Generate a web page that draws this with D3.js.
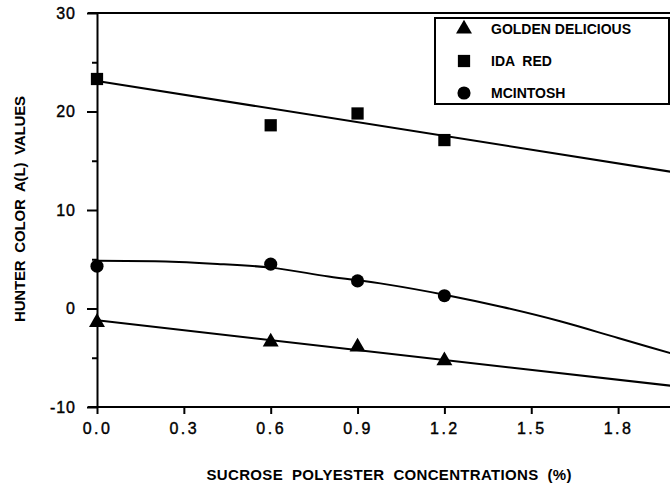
<!DOCTYPE html>
<html>
<head>
<meta charset="utf-8">
<script src="https://cdn.jsdelivr.net/npm/d3@7"></script>
<style>
  body { margin: 0; background: #fff; }
  svg { display: block; font-family: "Liberation Sans", Arial, sans-serif; }
</style>
</head>
<body>
<div id="chart"></div>
<script>
// concentrations where samples were measured
const conc = [0, 0.6, 0.9, 1.2];
// measured Hunter a(L) values
const goldenDelicious = [-1.4, -3.4, -3.9, -5.3];
const idaRed = [23.3, 18.6, 19.8, 17.1];
const mcintosh = [4.3, 4.5, 2.8, 1.3];

// fitted lines as drawn in the figure
const lineX = [0, 2.0];
const goldenFit = [-1.2, -7.9];
const idaFit = [23.1, 13.8];
const mcintoshFitX = [0, 0.2, 0.4, 0.6, 0.8, 1.0, 1.2, 1.4, 1.6, 1.8, 2.0];
const mcintoshFit = [4.85, 4.8, 4.55, 4.15, 3.25, 2.45, 1.4, 0.15, -1.3, -3.0, -4.7];

const xTicks = [0, 0.3, 0.6, 0.9, 1.2, 1.5, 1.8];
const yTicks = [-10, 0, 10, 20, 30];
const yMinorTicks = [-5, 5, 15, 25];
const legendLabels = ["GOLDEN DELICIOUS", "IDA  RED", "MCINTOSH"];
const legendSymbols = [d3.symbolTriangle, d3.symbolSquare, d3.symbolCircle];

const width = 670;
const height = 484;

const x = d3.scaleLinear().domain([0, 2.0]).range([97, 676]);
const y = d3.scaleLinear().domain([-10, 30]).range([407, 13]);

const svg = d3.select("#chart").append("svg")
    .attr("width", width)
    .attr("height", height);

// top frame line
svg.append("line")
    .attr("x1", 88).attr("x2", width)
    .attr("y1", y(30)).attr("y2", y(30))
    .attr("stroke", "#000").attr("stroke-width", 2);

// x axis
const xAxis = svg.append("g")
    .attr("transform", `translate(0,${y(-10)})`)
    .call(d3.axisBottom(x).tickValues(xTicks).tickFormat(d3.format(".1f")).tickSize(7).tickSizeOuter(0));
xAxis.select(".domain").attr("stroke-width", 2).attr("d", `M88,0H${width}`);
xAxis.selectAll(".tick line").attr("stroke-width", 2);
xAxis.selectAll(".tick text")
    .attr("font-size", 16).attr("dy", "1.05em").attr("y", 10)
    .attr("letter-spacing", 2.5).attr("fill", "#000")
    .attr("stroke", "#000").attr("stroke-width", 0.4);

// y axis
const yAxis = svg.append("g")
    .attr("transform", `translate(${x(0)},0)`)
    .call(d3.axisLeft(y).tickValues(yTicks).tickFormat(d => String(d)).tickSize(10).tickSizeOuter(0).tickPadding(11));
yAxis.select(".domain").attr("stroke-width", 2);
yAxis.selectAll(".tick line").attr("stroke-width", 2);
yAxis.selectAll(".tick text")
    .attr("font-size", 16).attr("letter-spacing", 1).attr("fill", "#000")
    .attr("stroke", "#000").attr("stroke-width", 0.4);

svg.append("g")
    .attr("transform", `translate(${x(0)},0)`)
    .call(d3.axisLeft(y).tickValues(yMinorTicks).tickSize(5).tickFormat(""))
    .call(g => g.select(".domain").remove())
    .selectAll(".tick line").attr("stroke-width", 2);

// axis titles
svg.append("text")
    .attr("x", 389).attr("y", 480)
    .attr("text-anchor", "middle")
    .attr("font-size", 15).attr("font-weight", "bold")
    .attr("textLength", 365).attr("lengthAdjust", "spacing")
    .style("white-space", "pre")
    .text("SUCROSE  POLYESTER  CONCENTRATIONS  (%)");

svg.append("text")
    .attr("transform", "translate(25,209) rotate(-90)")
    .attr("text-anchor", "middle")
    .attr("font-size", 15).attr("font-weight", "bold")
    .attr("textLength", 226).attr("lengthAdjust", "spacing")
    .style("white-space", "pre")
    .text("HUNTER  COLOR  A(L)  VALUES");

// fitted lines
const line = d3.line().x(d => x(d[0])).y(d => y(d[1]));
const smooth = d3.line().x(d => x(d[0])).y(d => y(d[1])).curve(d3.curveMonotoneX);

const fits = [
    { path: line, pts: d3.zip(lineX, goldenFit) },
    { path: line, pts: d3.zip(lineX, idaFit) },
    { path: smooth, pts: d3.zip(mcintoshFitX, mcintoshFit) }
];
svg.append("g").selectAll("path")
    .data(fits)
    .join("path")
        .attr("d", d => d.path(d.pts))
        .attr("fill", "none")
        .attr("stroke", "#000")
        .attr("stroke-width", 2);

// data points
const series = [goldenDelicious, idaRed, mcintosh];
const symbolSizes = [110, 150, 135];
series.forEach((vals, i) => {
    svg.append("g").selectAll("path")
        .data(d3.zip(conc, vals))
        .join("path")
            .attr("transform", d => `translate(${x(d[0])},${y(d[1])})`)
            .attr("d", d3.symbol(legendSymbols[i], symbolSizes[i]))
            .attr("fill", "#000");
});

// legend
const legend = svg.append("g");
legend.append("rect")
    .attr("x", 435).attr("y", 18)
    .attr("width", 234).attr("height", 86)
    .attr("fill", "#fff").attr("stroke", "#000").attr("stroke-width", 2);

const item = legend.selectAll(".item")
    .data(legendLabels)
    .join("g")
        .attr("class", "item")
        .attr("transform", (d, i) => `translate(0,${29 + i * 32})`);

item.append("path")
    .attr("transform", "translate(464,0)")
    .attr("d", (d, i) => d3.symbol(legendSymbols[i], symbolSizes[i])())
    .attr("fill", "#000");

item.append("text")
    .attr("x", 491).attr("y", 5)
    .attr("font-size", 14).attr("font-weight", "bold")
    .style("white-space", "pre")
    .text(d => d);
</script>
</body>
</html>
